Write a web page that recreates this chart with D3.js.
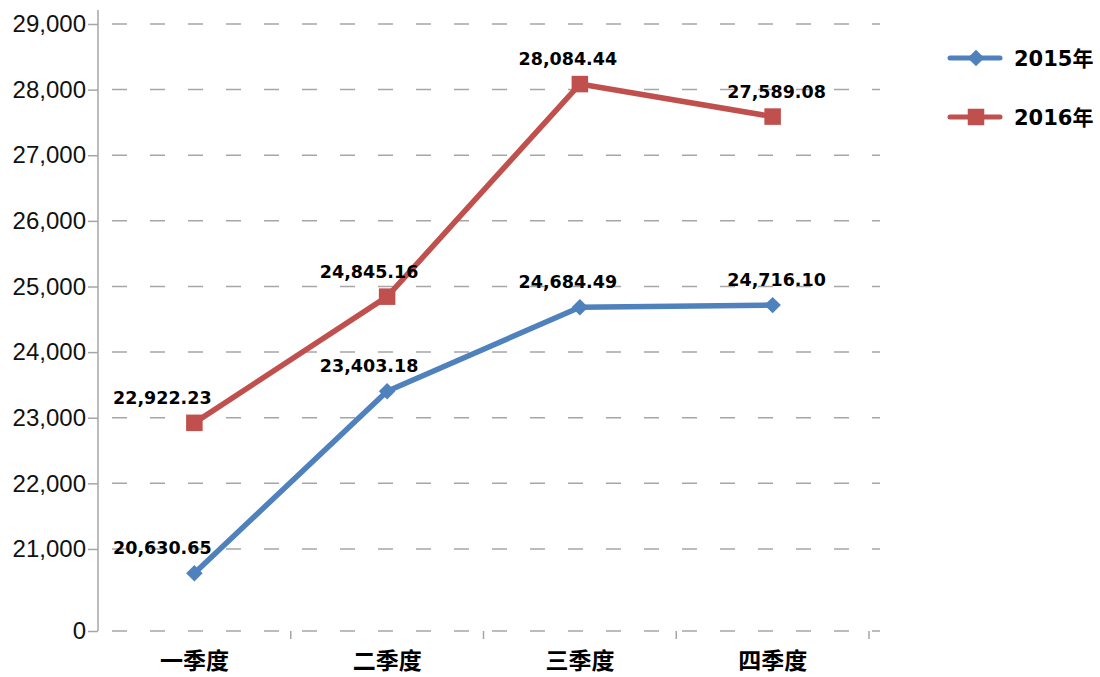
<!DOCTYPE html>
<html>
<head>
<meta charset="utf-8">
<script src="https://cdn.jsdelivr.net/npm/d3@7"></script>
<style>
  body { margin: 0; background: #fff; }
  svg { display: block; }
</style>
</head>
<body>
<div id="chart"></div>
<script>
const quarters = ["一季度", "二季度", "三季度", "四季度"];
const seriesNames = ["2015年", "2016年"];
const values2015 = [20630.65, 23403.18, 24684.49, 24716.1];
const values2016 = [22922.23, 24845.16, 28084.44, 27589.08];
const yTicks = [0, 21000, 22000, 23000, 24000, 25000, 26000, 27000, 28000, 29000];

const w = 1100, h = 677;
const colors = ["#4f81bd", "#c0504d"];
// label nudges per quarter (layout only)
const labelDx = [-32, -18, -12, 4];

const svg = d3.select("#chart").append("svg").attr("width", w).attr("height", h);

const x = d3.scaleBand().domain(quarters).range([98, 869]);
// broken axis: 0 at the bottom, then 20,000 upward
const y = d3.scaleLinear().domain([0, 20000, 29000]).range([631, 614.6, 24]);

const fmt = d3.format(",.2f");

// gridlines
svg.append("g")
  .selectAll("line")
  .data(yTicks)
  .join("line")
  .attr("x1", 98)
  .attr("x2", 880)
  .attr("y1", (d) => y(d))
  .attr("y2", (d) => y(d))
  .attr("stroke", "#a6a6a6")
  .attr("stroke-width", 1.5)
  .attr("stroke-dasharray", "15 23")
  .attr("stroke-dashoffset", -14);

// y axis
const yAxis = svg.append("g")
  .attr("transform", "translate(98,0)")
  .call(d3.axisLeft(y).tickValues(yTicks).tickFormat(d3.format(",")).tickSize(10).tickPadding(2));
yAxis.select(".domain").attr("d", `M0,${y(0)}V10`).attr("stroke", "#a6a6a6").attr("stroke-width", 1.5);
yAxis.selectAll(".tick line").attr("stroke", "#a6a6a6").attr("stroke-width", 1.5);
yAxis.selectAll(".tick text")
  .attr("fill", "#111")
  .style("font-family", "'Liberation Sans', Arial, sans-serif")
  .style("font-size", "24px");

// x axis tick marks at band edges + labels
const edges = quarters.map((q) => x(q) + x.bandwidth());
svg.append("g")
  .selectAll("line")
  .data(edges)
  .join("line")
  .attr("x1", (d) => d)
  .attr("x2", (d) => d)
  .attr("y1", y(0))
  .attr("y2", y(0) + 8)
  .attr("stroke", "#a6a6a6")
  .attr("stroke-width", 1.5);

svg.append("g")
  .selectAll("text")
  .data(quarters)
  .join("text")
  .attr("x", (d) => x(d) + x.bandwidth() / 2)
  .attr("y", 659)
  .attr("dominant-baseline", "central")
  .attr("text-anchor", "middle")
  .style("font-family", "'Noto Sans CJK SC', sans-serif")
  .style("font-weight", "bold")
  .style("font-size", "23px")
  .attr("fill", "#000")
  .text((d) => d);

const line = d3.line()
  .x((d, i) => x(quarters[i]) + x.bandwidth() / 2)
  .y((d) => y(d));

const series = [values2015, values2016];
const marker = d3.symbol().type(d3.symbolSquare).size(150);
const markerTf = (s) => (s === 0 ? " rotate(45) scale(0.95)" : " scale(1.35)");

series.forEach((vals, s) => {
  const g = svg.append("g");
  g.append("path")
    .attr("d", line(vals))
    .attr("fill", "none")
    .attr("stroke", colors[s])
    .attr("stroke-width", 5.5)
    .attr("stroke-linejoin", "round");
  g.selectAll("path.m")
    .data(vals)
    .join("path")
    .attr("class", "m")
    .attr("d", marker)
    .attr("transform", (d, i) => `translate(${x(quarters[i]) + x.bandwidth() / 2},${y(d)})` + markerTf(s))
    .attr("fill", colors[s]);
  g.selectAll("text")
    .data(vals)
    .join("text")
    .attr("x", (d, i) => x(quarters[i]) + x.bandwidth() / 2 + labelDx[i])
    .attr("y", (d) => y(d) - 19)
    .attr("text-anchor", "middle")
    .style("font-family", "'DejaVu Sans', sans-serif")
    .style("font-weight", "bold")
    .style("font-size", "17.5px")
    .attr("fill", "#000")
    .text((d) => fmt(d));
});

// legend
const legend = svg.append("g").attr("transform", "translate(950,58)");
seriesNames.forEach((name, s) => {
  const item = legend.append("g").attr("transform", `translate(0,${s * 59})`);
  item.append("line").attr("x1", 0).attr("x2", 50).attr("stroke", colors[s]).attr("stroke-width", 5).attr("stroke-linecap", "round");
  item.append("path")
    .attr("d", marker)
    .attr("transform", "translate(26,0)" + markerTf(s))
    .attr("fill", colors[s]);
  item.append("text")
    .attr("x", 64)
    .attr("y", 8)
    .style("font-family", "'DejaVu Sans', 'Noto Sans CJK SC', sans-serif")
    .style("font-weight", "bold")
    .style("font-size", "21px")
    .attr("fill", "#000")
    .text(name);
});
</script>
</body>
</html>
